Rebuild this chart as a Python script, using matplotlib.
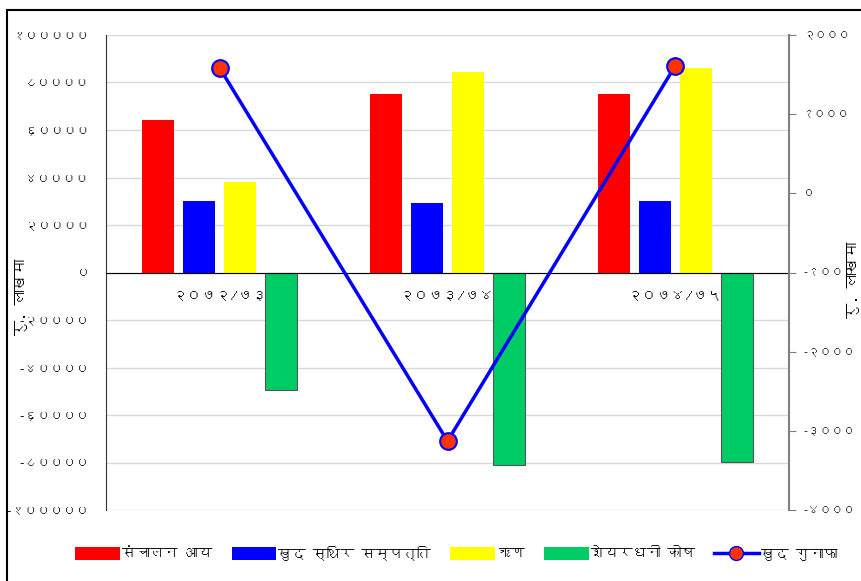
import matplotlib
matplotlib.use("Agg")
import matplotlib.pyplot as plt
import numpy as np
from matplotlib import font_manager, ft2font
from matplotlib.patches import Patch
from matplotlib.lines import Line2D

# data (रु. लाखमा)
years = ["२०७२/७३", "२०७३/७४", "२०७४/७५"]
sanchalan_aay = [64000, 75000, 75000]
khud_sthir_sampatti = [30000, 29300, 30100]
rin = [38000, 84400, 86000]
shayardhani_kosh = [-49500, -81000, -79800]
khud_gunafa = [1580, -3130, 1610]

series_names = ["संचालन आय", "खुद स्थिर सम्पत्ति", "ऋण", "शेयरधनी कोष"]
line_name = "खुद गुनाफा"
bar_colors = ["#FF0000", "#0000FF", "#FFFF00", "#00CC66"]

left_ticks = list(range(-100000, 100001, 20000))
right_ticks = list(range(-4000, 2001, 1000))


def find_devanagari():
    for f in font_manager.fontManager.ttflist:
        try:
            if 0x0915 in ft2font.FT2Font(f.fname).get_charmap():
                return f.name
        except Exception:
            pass
    return None


deva = find_devanagari()
fams = [deva, "DejaVu Sans"] if deva else ["DejaVu Sans"]
plt.rcParams["font.family"] = fams

digits = str.maketrans("0123456789", "०१२३४५६७८९")


def nep(v):
    return ("-" if v < 0 else "") + str(abs(v)).translate(digits)


fig = plt.figure(figsize=(8.61, 5.81), dpi=100)
ax = fig.add_axes([106 / 861, 1 - 510 / 581, 683 / 861, 475 / 581])

x = np.arange(len(years))
width = 0.14
step = 0.18
all_bars = [sanchalan_aay, khud_sthir_sampatti, rin, shayardhani_kosh]
for i, (vals, c) in enumerate(zip(all_bars, bar_colors)):
    ec = "#555555" if i == 3 else "none"
    ax.bar(x + (i - 1.5) * step, vals, width, color=c, edgecolor=ec, linewidth=0.8, zorder=2)

ax.set_xlim(-0.5, 2.5)
ax.set_ylim(-100000, 100000)
ax.set_yticks(left_ticks)
ax.set_yticklabels([nep(v) for v in left_ticks], fontsize=9.3)
ax.tick_params(axis="y", length=0, pad=12)
ax.yaxis.grid(True, color="#D9D9D9", linewidth=1)
ax.set_axisbelow(True)

ax.spines["bottom"].set_position(("data", 0))
ax.spines["bottom"].set_color("black")
ax.spines["bottom"].set_zorder(3)
ax.spines["top"].set_visible(False)
ax.spines["right"].set_visible(False)
ax.spines["left"].set_color("#333333")
ax.set_xticks(x)
ax.set_xticklabels(years, fontsize=10.5)
ax.tick_params(axis="x", length=0, pad=12)

ax2 = ax.twinx()
ax2.set_ylim(-4000, 2000)
ax2.set_yticks(right_ticks)
ax2.set_yticklabels([nep(v) for v in right_ticks], fontsize=8.5)
ax2.tick_params(axis="y", length=5, color="#808080", pad=5)
for s in ["top", "bottom", "left"]:
    ax2.spines[s].set_visible(False)
ax2.spines["right"].set_color("#808080")
ax2.spines["right"].set_linewidth(1.5)
ax2.plot(x, khud_gunafa, color="#0000FF", linewidth=2.5, marker="o",
         markersize=12, markerfacecolor="#FF3300", markeredgecolor="#0000FF",
         markeredgewidth=1.5, zorder=4)

fig.text(22 / 861, 1 - 297 / 581, "रु. लाखमा", rotation=90, fontsize=11,
         fontweight="bold", ha="center", va="center")
fig.text(853 / 861, 1 - 280 / 581, "रु. लाखमा", rotation=90, fontsize=11,
         fontweight="bold", ha="center", va="center")

# frame
fig.add_artist(Line2D([7 / 861, 7 / 861], [0, 1 - 10 / 581], transform=fig.transFigure,
                      color="black", linewidth=1.5))
fig.add_artist(Line2D([7 / 861, 1], [1 - 10 / 581, 1 - 10 / 581], transform=fig.transFigure,
                      color="black", linewidth=1.5))

handles = [Patch(facecolor=c, edgecolor="none") for c in bar_colors]
handles.append(Line2D([], [], color="#0000FF", linewidth=2.5, marker="o", markersize=10,
                      markerfacecolor="#FF3300", markeredgecolor="#0000FF"))
fig.legend(handles, series_names + [line_name], loc="center", ncol=5, frameon=False,
           bbox_to_anchor=(0.53, 1 - 553 / 581), fontsize=10, handlelength=3.2,
           handleheight=1.1, handletextpad=0.15, columnspacing=1.4)

fig.savefig("out.png", dpi=100)
